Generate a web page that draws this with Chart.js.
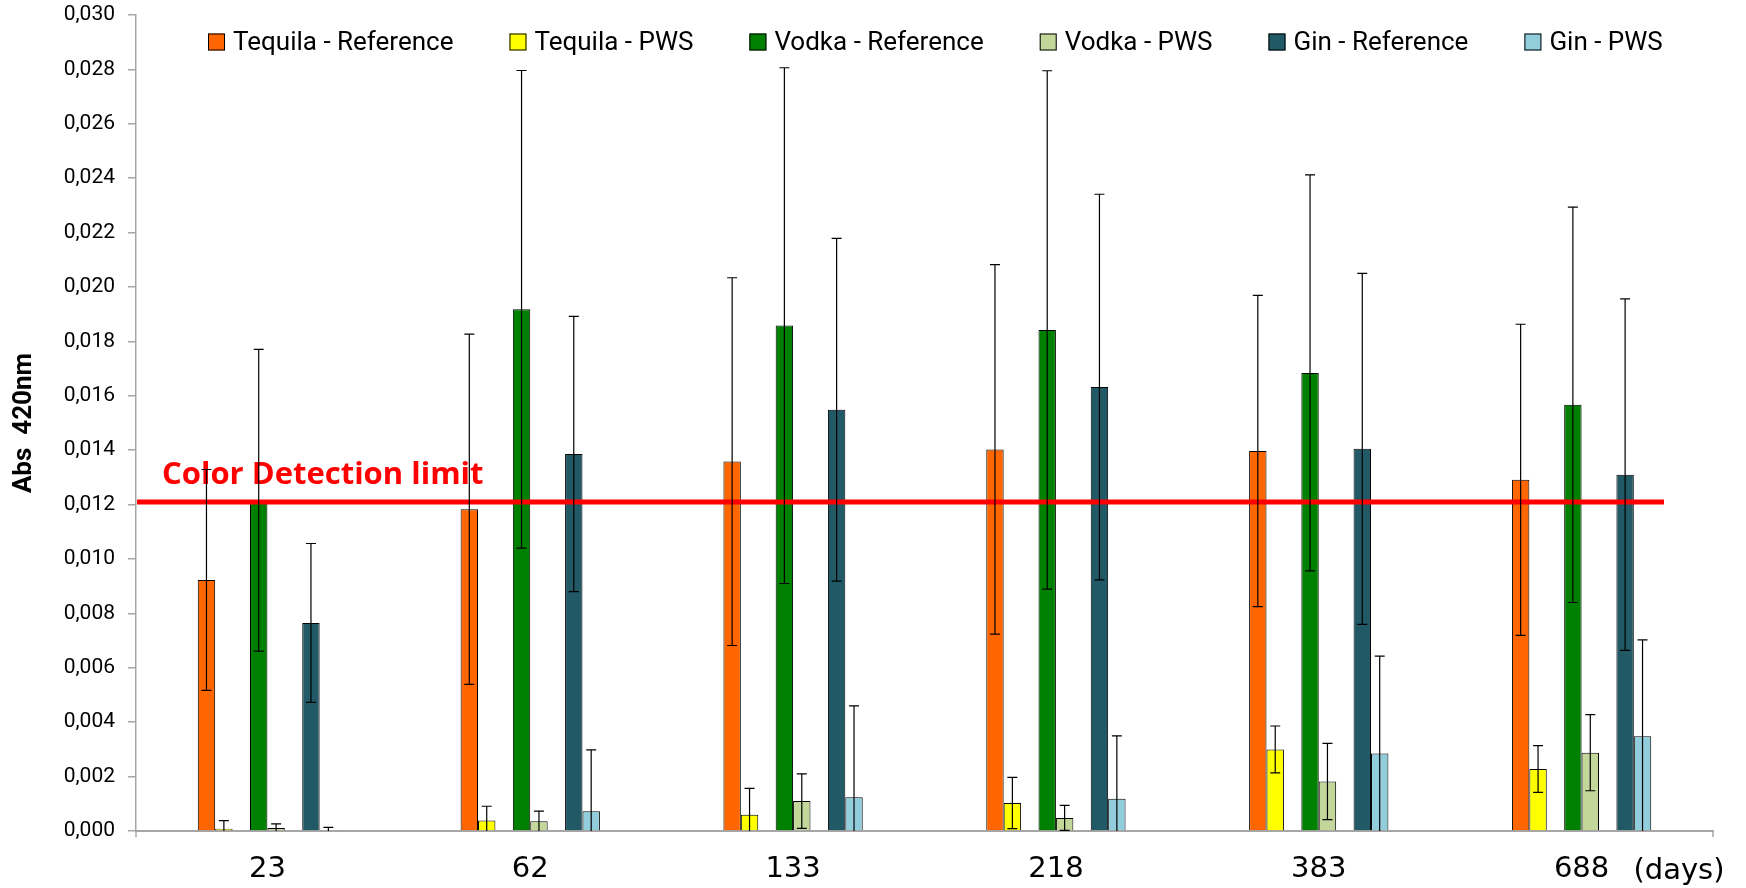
<!DOCTYPE html>
<html>
<head>
<meta charset="utf-8">
<script src="https://cdn.jsdelivr.net/npm/chart.js@4.4.1/dist/chart.umd.min.js"></script>
<style>
html, body { margin: 0; padding: 0; background: #fff; }
#wrap { width: 1746px; height: 888px; }
</style>
</head>
<body>
<div id="wrap"><canvas id="abs-chart"></canvas></div>
<script>
var days = ["23", "62", "133", "218", "383", "688"];

var tequilaRef = [0.00923, 0.01183, 0.01358, 0.01403, 0.01397, 0.01291];
var tequilaRefErr = [0.00406, 0.00644, 0.00676, 0.00679, 0.00572, 0.00572];
var tequilaPws = [0.00008, 0.00039, 0.00060, 0.00103, 0.00300, 0.00228];
var tequilaPwsErr = [0.00030, 0.00052, 0.00097, 0.00094, 0.00086, 0.00086];

var vodkaRef = [0.01216, 0.01918, 0.01858, 0.01842, 0.01684, 0.01567];
var vodkaRefErr = [0.00555, 0.00878, 0.00948, 0.00953, 0.00728, 0.00727];
var vodkaPws = [0.00011, 0.00036, 0.00110, 0.00048, 0.00182, 0.00288];
var vodkaPwsErr = [0.00015, 0.00037, 0.00100, 0.00046, 0.00140, 0.00140];

var ginRef = [0.00765, 0.01386, 0.01549, 0.01632, 0.01405, 0.01310];
var ginRefErr = [0.00292, 0.00506, 0.00630, 0.00709, 0.00645, 0.00646];
var ginPws = [0.00004, 0.00073, 0.00124, 0.00119, 0.00285, 0.00348];
var ginPwsErr = [0.00009, 0.00225, 0.00336, 0.00231, 0.00358, 0.00355];

var detectionLimit = 0.0121;

var FONT = "Roboto, 'Open Sans', sans-serif";
var WIDE = "'DejaVu Sans', 'Open Sans', sans-serif";

function bars(label, data, errors, color) {
    return {
        label: label,
        data: data,
        errors: errors,
        backgroundColor: color,
        borderColor: '#000',
        borderWidth: 1
    };
}

// empty slot so the bars sit in pairs like the original
function gap() {
    return { label: '', data: days.map(function () { return null; }) };
}

// error bars, detection limit, legend and the "(days)" label
var extras = {
    id: 'extras',
    afterDatasetsDraw: function (chart) {
        var ctx = chart.ctx, y = chart.scales.y, area = chart.chartArea;
        ctx.save();

        var ly = y.getPixelForValue(detectionLimit);
        ctx.strokeStyle = '#ff0000';
        ctx.lineWidth = 5;
        ctx.beginPath();
        ctx.moveTo(area.left + 1, ly);
        ctx.lineTo(area.right - 49, ly);
        ctx.stroke();

        ctx.fillStyle = '#ff0000';
        ctx.font = 'bold 31px "Open Sans", sans-serif';
        ctx.textAlign = 'left';
        ctx.textBaseline = 'alphabetic';
        ctx.fillText('Color Detection limit', area.left + 26, ly - 18);

        ctx.strokeStyle = '#000';
        ctx.lineWidth = 1.2;
        chart.data.datasets.forEach(function (ds, i) {
            if (!ds.errors) return;
            chart.getDatasetMeta(i).data.forEach(function (bar, j) {
                var v = ds.data[j], e = ds.errors[j];
                var top = y.getPixelForValue(v + e);
                var low = v - e;
                var bottom = low > 0 ? y.getPixelForValue(low) : area.bottom;
                ctx.beginPath();
                ctx.moveTo(bar.x, top);
                ctx.lineTo(bar.x, bottom);
                ctx.moveTo(bar.x - 5, top);
                ctx.lineTo(bar.x + 5, top);
                if (low > 0) {
                    ctx.moveTo(bar.x - 5, bottom);
                    ctx.lineTo(bar.x + 5, bottom);
                }
                ctx.stroke();
            });
        });

        // axis end ticks
        ctx.strokeStyle = '#a6a6a6';
        ctx.lineWidth = 1.5;
        ctx.beginPath();
        ctx.moveTo(area.left, area.bottom);
        ctx.lineTo(area.left, area.bottom + 6);
        ctx.moveTo(area.right, area.bottom);
        ctx.lineTo(area.right, area.bottom + 6);
        ctx.stroke();

        // legend row
        ctx.font = '26px ' + FONT;
        ctx.textBaseline = 'middle';
        ctx.textAlign = 'left';
        var lx = area.left + 72, lyc = area.top + 27;
        chart.data.datasets.forEach(function (ds) {
            if (!ds.label) return;
            ctx.fillStyle = ds.backgroundColor;
            ctx.fillRect(lx, lyc - 8.5, 17, 17);
            ctx.strokeStyle = '#000';
            ctx.lineWidth = 1;
            ctx.strokeRect(lx + 0.5, lyc - 8, 16, 16);
            ctx.fillStyle = '#000';
            ctx.fillText(ds.label, lx + 25, lyc + 1);
            lx += 25 + ctx.measureText(ds.label).width + 56;
        });

        ctx.fillStyle = '#000';
        ctx.font = '29px ' + WIDE;
        ctx.textAlign = 'center';
        ctx.fillText('(days)', area.right - 34, area.bottom + 40);
        ctx.restore();
    }
};

var ctx = document.getElementById("abs-chart");

var absChart = new Chart(ctx, {
    type: 'bar',
    data: {
        labels: days,
        datasets: [
            bars('Tequila - Reference', tequilaRef, tequilaRefErr, '#ff6600'),
            bars('Tequila - PWS', tequilaPws, tequilaPwsErr, '#ffff00'),
            gap(),
            bars('Vodka - Reference', vodkaRef, vodkaRefErr, '#008000'),
            bars('Vodka - PWS', vodkaPws, vodkaPwsErr, '#c4d79b'),
            gap(),
            bars('Gin - Reference', ginRef, ginRefErr, '#215967'),
            bars('Gin - PWS', ginPws, ginPwsErr, '#92cddc')
        ]
    },
    options: {
        responsive: true,
        maintainAspectRatio: false,
        animation: false,
        layout: { padding: { left: 0, right: 33, top: 15, bottom: 0 } },
        datasets: {
            bar: { categoryPercentage: 0.53, barPercentage: 1.0 }
        },
        plugins: {
            tooltip: { enabled: false },
            legend: { display: false }
        },
        scales: {
            x: {
                offset: true,
                border: { color: '#a6a6a6', width: 2 },
                grid: { drawOnChartArea: false, drawTicks: false, color: 'transparent' },
                ticks: { padding: 21, color: '#000', font: { family: WIDE, size: 29 } },
                afterFit: function (s) { s.height = 57; }
            },
            y: {
                min: 0,
                max: 0.03,
                border: { color: '#a6a6a6', width: 1.5 },
                grid: { drawOnChartArea: false, tickLength: 8, color: '#a6a6a6', lineWidth: 1.5 },
                ticks: {
                    stepSize: 0.002,
                    padding: 13,
                    color: '#000',
                    font: { family: FONT, size: 21 },
                    callback: function (v) { return v.toFixed(3).replace('.', ','); }
                },
                title: {
                    display: true,
                    text: 'Abs  420nm',
                    color: '#000',
                    font: { family: FONT, size: 26, weight: 'bold' },
                    padding: { top: 9, bottom: 0 }
                },
                afterFit: function (s) {
                    s.width = 136;
                    s.paddingTop = 0;
                    s.paddingBottom = 0;
                }
            }
        }
    },
    plugins: [extras]
});
</script>
</body>
</html>
